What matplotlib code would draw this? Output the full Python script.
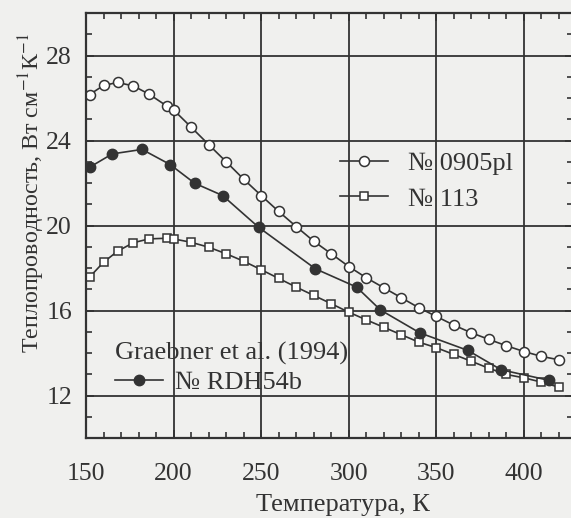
import matplotlib
matplotlib.use("Agg")
import matplotlib.pyplot as plt
from matplotlib.ticker import MultipleLocator

# ---- data ----
t_0905 = [152, 160, 168, 177, 186, 196, 200, 210, 220, 230, 240, 250, 260, 270,
          280, 290, 300, 310, 320, 330, 340, 350, 360, 370, 380, 390, 400, 410, 420]
k_0905 = [26.16, 26.59, 26.73, 26.57, 26.18, 25.63, 25.44, 24.63, 23.81, 23.00,
          22.18, 21.41, 20.66, 19.95, 19.26, 18.67, 18.07, 17.54, 17.07, 16.60,
          16.13, 15.72, 15.31, 14.95, 14.64, 14.34, 14.07, 13.84, 13.68]

t_113 = [152, 160, 168, 177, 186, 196, 200, 210, 220, 230, 240, 250, 260, 270,
         280, 290, 300, 310, 320, 330, 340, 350, 360, 370, 380, 390, 400, 410, 420]
k_113 = [17.57, 18.27, 18.79, 19.19, 19.37, 19.40, 19.37, 19.21, 18.98, 18.67,
         18.32, 17.92, 17.51, 17.10, 16.71, 16.32, 15.92, 15.56, 15.21, 14.86,
         14.51, 14.25, 13.93, 13.61, 13.28, 12.99, 12.83, 12.63, 12.39]

t_rdh = [152, 165, 182, 198, 212, 228, 248.5, 281, 304.5, 318, 340.5, 368, 387, 414.5]
k_rdh = [22.74, 23.37, 23.58, 22.87, 21.99, 21.41, 19.92, 17.96, 17.10, 16.03,
         14.95, 14.12, 13.21, 12.71]

x_ticks = [150, 200, 250, 300, 350, 400]
y_ticks = [12, 16, 20, 24, 28]

label_0905 = "№ 0905pl"
label_113 = "№ 113"
label_rdh = "№ RDH54b"
title_rdh = "Graebner et al. (1994)"
xlabel = "Температура, К"
ylabel = "Теплопроводность, Вт см$^{-1}$К$^{-1}$"

# ---- style ----
plt.rcParams['font.family'] = ['Liberation Serif', 'DejaVu Serif']
plt.rcParams['mathtext.fontset'] = 'stix'
ink = '#333333'
bg = '#f0f0ee'

fig = plt.figure(figsize=(5.71, 5.18), dpi=100, facecolor=bg)
ax = fig.add_axes([86 / 571, 1 - 438 / 518, 487 / 571, 425 / 518])
ax.set_facecolor(bg)

ax.set_xlim(150, 428)
ax.set_ylim(10, 30)
ax.set_xticks(x_ticks)
ax.set_yticks(y_ticks)
ax.xaxis.set_minor_locator(MultipleLocator(10))
ax.yaxis.set_minor_locator(MultipleLocator(1))
ax.grid(True, which='major', color=ink, lw=1.3)
ax.set_axisbelow(True)
for s in ax.spines.values():
    s.set_color(ink)
    s.set_linewidth(1.6)
ax.tick_params(which='both', direction='in', top=True, right=True, color=ink,
               labelcolor=ink, labelsize=18.5)
ax.tick_params(which='major', length=6, width=1.3)
ax.tick_params(which='minor', length=4, width=1.2)
ax.tick_params(axis='x', pad=18)
ax.tick_params(axis='y', pad=10)

l1, = ax.plot(t_0905, k_0905, '-o', color=ink, lw=1.2, ms=7.2, mfc='white',
              mec=ink, mew=1.1, label=label_0905)
l2, = ax.plot(t_113, k_113, '-s', color=ink, lw=1.2, ms=6.2, mfc='white',
              mec=ink, mew=1.1, label=label_113)
l3, = ax.plot(t_rdh, k_rdh, '-o', color=ink, lw=1.2, ms=7.5, mfc=ink,
              mec=ink, mew=1.0, label=label_rdh)

leg1 = ax.legend(handles=[l1, l2], loc='upper left', bbox_to_anchor=(0.5216, 0.673),
                 frameon=False, fontsize=19, handlelength=1.82, handletextpad=0.76,
                 labelspacing=0.44, borderpad=0, borderaxespad=0, labelcolor=ink)
ax.add_artist(leg1)
leg2 = ax.legend(handles=[l3], loc='upper left', bbox_to_anchor=(0.06, 0.225),
                 frameon=False, fontsize=19, title=title_rdh, title_fontsize=19,
                 alignment='left', handlelength=1.82, handletextpad=0.45,
                 labelspacing=0.2, borderpad=0, borderaxespad=0, labelcolor=ink)
leg2.get_title().set_color(ink)

fig.text(343 / 571, 1 - 505 / 518, xlabel, ha='center', va='center',
         fontsize=19, color=ink)
fig.text(32 / 571, 1 - 193 / 518, ylabel, ha='center', va='center',
         rotation=90, fontsize=17.3, color=ink)

fig.savefig('out.png', dpi=100, facecolor=bg)
